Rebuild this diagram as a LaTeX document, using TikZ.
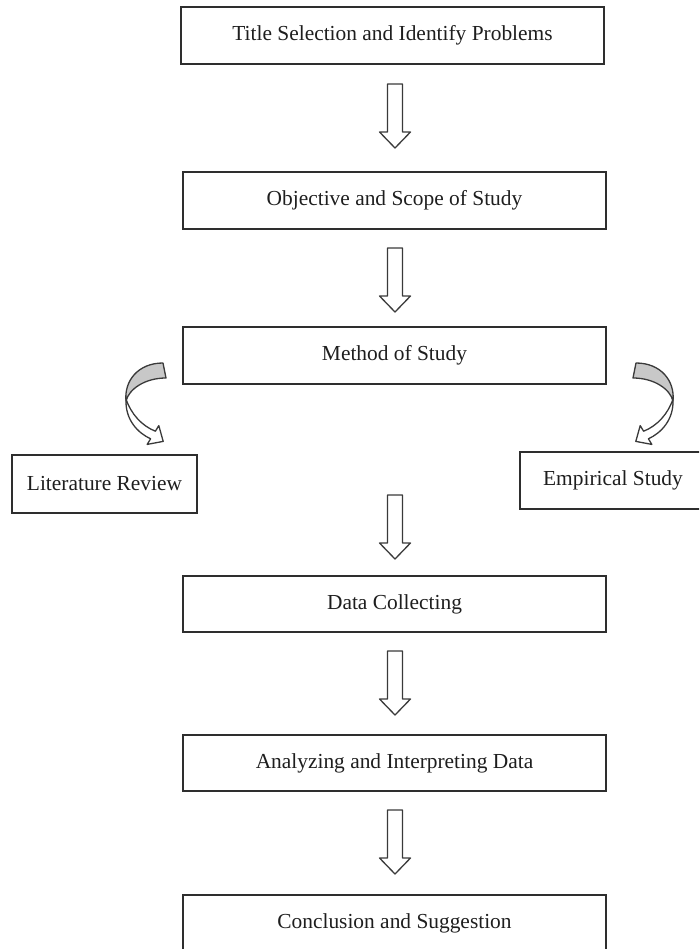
\documentclass[tikz,border=0pt]{standalone}
\usepackage{fontspec}
\setmainfont{Liberation Serif}
\definecolor{boxc}{HTML}{2E2E2E}
\definecolor{txt}{HTML}{1E1E1E}
\definecolor{arrc}{HTML}{3A3A3A}
\definecolor{grayf}{HTML}{C8C8C8}
\tikzset{
  box/.style={draw=boxc, line width=1.7pt, minimum width=423pt, minimum height=57pt,
    inner sep=0pt, text=txt, font=\fontsize{21.4}{25}\selectfont},
  sidebox/.style={box, minimum width=186pt, minimum height=57pt},
  arrline/.style={draw=arrc, line width=1.3pt, line join=round},
  downarr/.pic={\draw[arrline, fill=white] (-7.5,0) -- (7.5,0) -- (7.5,48) -- (15.5,48) -- (0,64)
      -- (-15.5,48) -- (-7.5,48) -- cycle;},
  curvarr/.pic={
    \filldraw[arrline, fill=grayf] (163,363) .. controls (138,363) and (124,381) .. (126,401)
      .. controls (129,389) and (145,378) .. (166,378) -- cycle;
    \filldraw[arrline, fill=white] (126,399) .. controls (125,420) and (138,433) .. (150.6,438.8)
      -- (147.2,444.4) -- (163.2,441.4) -- (158.8,425.6) -- (155.4,431.2)
      .. controls (142,426) and (131,414) .. (126,399) -- cycle;}
}
\begin{document}
\begin{tikzpicture}[x=1pt,y=-1pt]
\useasboundingbox (0,0) rectangle (699,949);
\clip (0,0) rectangle (699,949);
\node[box] (b1) at (392.5,35.5) {Title Selection and Identify Problems};
\node[box] (b2) at (394.5,200.5) {Objective and Scope of Study};
\node[box] (b3) at (394.5,355.5) {Method of Study};
\node[sidebox, minimum width=185pt, minimum height=58pt] (lit) at (104.5,484) {Literature Review};
\node[sidebox] (emp) at (613,480.5) {Empirical Study};
\node[box, minimum height=56pt] (b4) at (394.5,604) {Data Collecting};
\node[box, minimum height=56pt] (b5) at (394.5,763) {Analyzing and Interpreting Data};
\node[box] (b6) at (394.5,923.5) {Conclusion and Suggestion};
\pic (a1) at (395,84) {downarr};
\pic (a2) at (395,248) {downarr};
\pic (a3) at (395,495) {downarr};
\pic (a4) at (395,651) {downarr};
\pic (a5) at (395,810) {downarr};
\pic (cl) at (0,0) {curvarr};
\pic[xscale=-1] (cr) at (799,0) {curvarr};
\end{tikzpicture}
\end{document}
